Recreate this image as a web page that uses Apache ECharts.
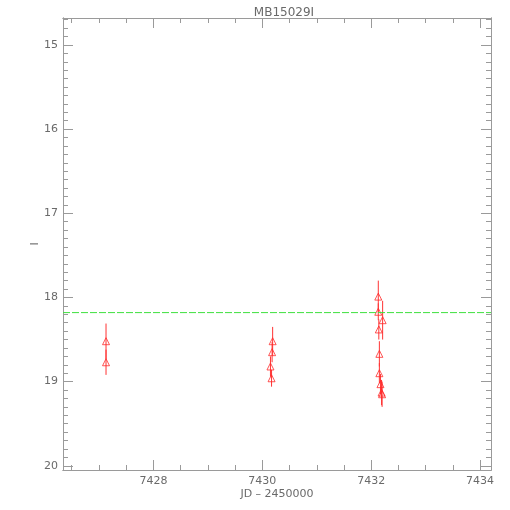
<!DOCTYPE html>
<html>
<head>
<meta charset="utf-8">
<script src="https://cdn.jsdelivr.net/npm/echarts@6/dist/echarts.min.js"></script>
<style>html,body{margin:0;padding:0;background:#fff;}#c{width:510px;height:510px;}</style>
</head>
<body>
<div id="c"></div>
<script>
var jd = [7427.13, 7427.13, 7430.19, 7430.18, 7430.15, 7430.17, 7432.13, 7432.13, 7432.21, 7432.14, 7432.15, 7432.15, 7432.17, 7432.19, 7432.20];
var mag = [18.52, 18.77, 18.52, 18.65, 18.82, 18.96, 17.99, 18.17, 18.27, 18.38, 18.67, 18.90, 19.03, 19.13, 19.15];
var err = [0.21, 0.15, 0.17, 0.12, 0.12, 0.10, 0.19, 0.10, 0.23, 0.12, 0.15, 0.12, 0.12, 0.15, 0.15];
var refMag = 18.18;
var xRange = [7426.34, 7434.2];
var yRange = [14.68, 20.05];
var xMajorTicks = [7428, 7430, 7432, 7434];
var xMinorTicks = [7426.5, 7427, 7427.5, 7428.5, 7429, 7429.5, 7430.5, 7431, 7431.5, 7432.5, 7433, 7433.5];
var yMajorTicks = [15, 16, 17, 18, 19, 20];
var yMinorTicks = [14.7, 14.8, 14.9, 15.1, 15.2, 15.3, 15.4, 15.5, 15.6, 15.7, 15.8, 15.9,
  16.1, 16.2, 16.3, 16.4, 16.5, 16.6, 16.7, 16.8, 16.9,
  17.1, 17.2, 17.3, 17.4, 17.5, 17.6, 17.7, 17.8, 17.9,
  18.1, 18.2, 18.3, 18.4, 18.5, 18.6, 18.7, 18.8, 18.9,
  19.1, 19.2, 19.3, 19.4, 19.5, 19.6, 19.7, 19.8, 19.9];
var titleText = 'MB15029I';
var xName = 'JD \u2013 2450000';
var yName = 'I';

var axisColor = '#9a9a9a';
var textColor = '#6a6a6a';
var font = 'DejaVu Sans';

function xAx(pos, ticks, len, labels) {
  return {
    type: 'value', position: pos, min: xRange[0], max: xRange[1],
    axisLine: {show: true, lineStyle: {color: axisColor, width: 1}},
    axisTick: {show: true, inside: true, length: len, customValues: ticks, lineStyle: {color: axisColor}},
    axisLabel: labels ? {show: true, customValues: xMajorTicks, color: textColor, fontSize: 11, fontFamily: font, margin: 6,
      formatter: function (v) { return String(Math.round(v)); }} : {show: false},
    splitLine: {show: false},
    name: labels ? xName : '', nameLocation: 'middle', nameGap: 19, nameMoveOverlap: false,
    nameTextStyle: {color: textColor, fontSize: 11, fontFamily: font}
  };
}
function yAx(pos, ticks, len, labels) {
  return {
    type: 'value', position: pos, min: yRange[0], max: yRange[1], inverse: true,
    axisLine: {show: true, lineStyle: {color: axisColor, width: 1}},
    axisTick: {show: true, inside: true, length: len, customValues: ticks, lineStyle: {color: axisColor}},
    axisLabel: labels ? {show: true, customValues: yMajorTicks, color: textColor, fontSize: 11, fontFamily: font, margin: 5,
      formatter: function (v) { return String(Math.round(v)); }} : {show: false},
    splitLine: {show: false},
    name: labels ? yName : '', nameLocation: 'middle', nameGap: 22, nameRotate: 90, nameMoveOverlap: false,
    nameTextStyle: {color: textColor, fontSize: 11, fontFamily: font}
  };
}

var pts = jd.map(function (x, i) { return [x, mag[i]]; });
var bars = jd.map(function (x, i) { return [x, mag[i] - err[i], mag[i] + err[i]]; });

var chart = echarts.init(document.getElementById('c'), null, {renderer: 'canvas'});
chart.setOption({
  animation: false,
  backgroundColor: '#fff',
  title: {text: titleText, left: 279, textAlign: 'center', top: 2,
    textStyle: {color: textColor, fontSize: 12, fontWeight: 'normal', fontFamily: font}},
  grid: {left: 63, right: 19, top: 18, bottom: 40, containLabel: false},
  xAxis: [xAx('bottom', xMajorTicks, 10, true), xAx('bottom', xMinorTicks, 5, false),
          xAx('top', xMajorTicks, 10, false), xAx('top', xMinorTicks, 5, false)],
  yAxis: [yAx('left', yMajorTicks, 10, true), yAx('left', yMinorTicks, 5, false),
          yAx('right', yMajorTicks, 10, false), yAx('right', yMinorTicks, 5, false)],
  series: [
    {
      type: 'line', xAxisIndex: 0, yAxisIndex: 0,
      data: [[xRange[0], refMag], [xRange[1], refMag]],
      symbol: 'none', silent: true,
      lineStyle: {color: '#3ee03e', width: 1, type: [7, 2]}
    },
    {
      type: 'custom', xAxisIndex: 0, yAxisIndex: 0,
      data: bars,
      renderItem: function (params, api) {
        var p1 = api.coord([api.value(0), api.value(1)]);
        var p2 = api.coord([api.value(0), api.value(2)]);
        return {type: 'line', shape: {x1: p1[0], y1: p1[1], x2: p2[0], y2: p2[1]},
          style: {stroke: '#ff3333', lineWidth: 1}};
      }
    },
    {
      type: 'scatter', xAxisIndex: 0, yAxisIndex: 0,
      data: pts, symbol: 'triangle', symbolSize: 7,
      itemStyle: {color: 'rgba(0,0,0,0)', borderColor: '#ff2a2a', borderWidth: 1}
    }
  ]
});
</script>
</body>
</html>
